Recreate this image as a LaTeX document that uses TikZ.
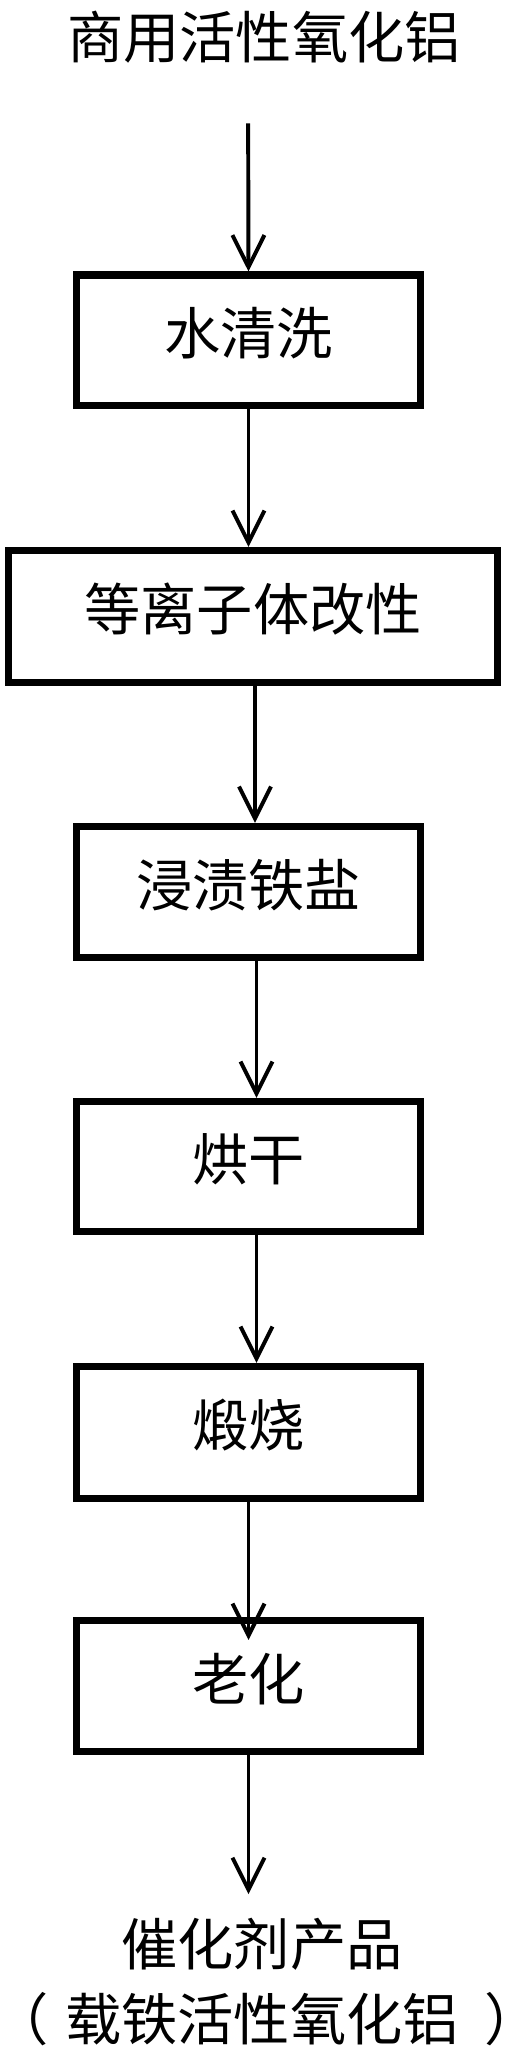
\documentclass[tikz,border=0pt]{standalone}
\usepackage{fontspec}
\newfontfamily\cjk{Noto Sans CJK SC}
\usetikzlibrary{arrows.meta}

\begin{document}
\begin{tikzpicture}[x=0.025cm, y=-0.025cm, every node/.style={font=\cjk\fontsize{40pt}{53pt}\selectfont, inner sep=0pt}, >={Straight Barb[length=8mm, width=8mm]}, stepbox/.style={draw, line width=5pt, minimum width=8.6cm, minimum height=3.25cm, text height=1.2cm, text depth=0.5cm}, flow/.style={line width=2.8pt, ->}]
	\useasboundingbox (0,0) rectangle (505,2054);
	\node (raw) at (264,37) {商用活性氧化铝};
	\node[stepbox] (wash) at (248.5,340) {水清洗};
	\node[stepbox, minimum width=12.225cm, minimum height=3.3cm] (plasma) at (253,616.5) {等离子体改性};
	\node[stepbox, minimum height=3.275cm] (soak) at (248.5,892) {浸渍铁盐};
	\node[stepbox] (dry) at (248.5,1166.5) {烘干};
	\node[stepbox, minimum height=3.3cm] (calc) at (248.5,1432.5) {煅烧};
	\node[stepbox, minimum height=3.275cm] (age) at (248.5,1686) {老化};
	\node[align=center] (prod) at (262,1982) {催化剂产品\\\llap{（\kern0.3em}载铁活性氧化铝\rlap{\kern0.45em）}};
	\draw[flow, shorten <=1.5cm] ([xshift=-0.4cm]raw.south) -- (wash.north);
	\draw[flow] (wash.south) -- (wash.south |- plasma.north);
	\draw[flow] ([xshift=0.05cm]plasma.south) -- ([xshift=0.05cm]plasma.south |- soak.north);
	\draw[flow] ([xshift=0.2cm]soak.south) -- ([xshift=0.2cm]dry.north);
	\draw[flow] ([xshift=0.2cm]dry.south) -- ([xshift=0.2cm]calc.north);
	\draw[flow, shorten >=-0.575cm] (calc.south) -- (age.north);
	\draw[flow, shorten >=0.6cm] (age.south) -- (age.south |- prod.north);
\end{tikzpicture}
\end{document}
